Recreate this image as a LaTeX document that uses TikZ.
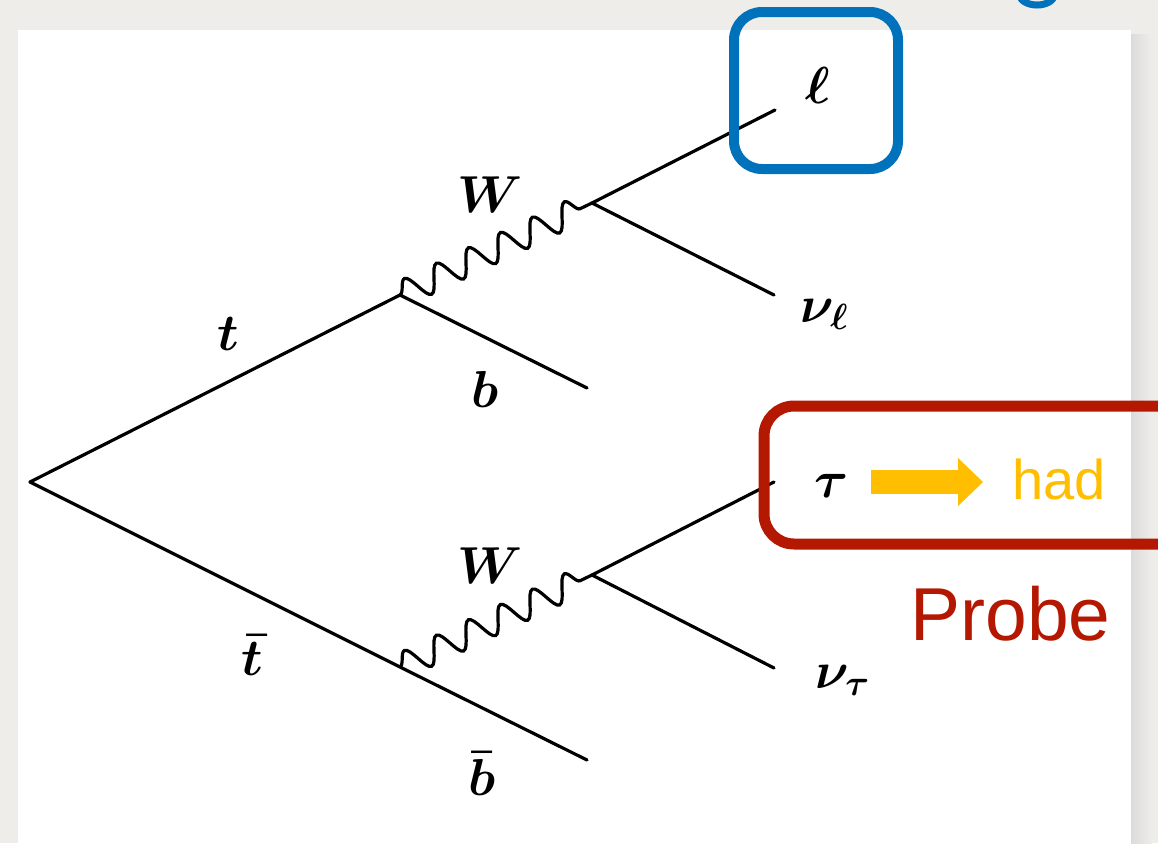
\documentclass[tikz,border=0pt]{standalone}
\usepackage{fix-cm}
\usepackage{fontspec}
\setsansfont{Liberation Sans}
\usetikzlibrary{decorations.pathmorphing,arrows.meta}
\definecolor{bgpaper}{HTML}{EFEDEA}
\definecolor{boxblue}{RGB}{0,114,187}
\definecolor{boxred}{RGB}{180,24,0}
\definecolor{hadorange}{RGB}{255,190,0}
\tikzset{
  fline/.style={line width=1.6pt, line cap=round},
  wline/.style={line width=1.6pt, decorate,
    decoration={snake, segment length=17.75pt, amplitude=6.5pt}},
  mlab/.style={font=\fontsize{26}{30}\selectfont\boldmath, inner sep=0pt},
  bluebox/.style={draw=boxblue, line width=5pt, rounded corners=14pt},
  redbox/.style={draw=boxred, line width=5.5pt, rounded corners=15pt},
  hadlab/.style={font=\sffamily\fontsize{28}{30}\selectfont, text=hadorange, inner sep=0pt},
  probelab/.style={font=\sffamily\fontsize{37.5}{40}\selectfont, text=boxred, inner sep=0pt},
  blockarrow/.style={draw=hadorange, line width=12pt,
    -{Triangle[length=12.5pt,width=24pt,line width=0pt]}}
}
\begin{document}
\begin{tikzpicture}[x=0.5pt,y=-0.5pt]
\useasboundingbox (0,0) rectangle (1158,843);
\begin{scope}
\clip (0,0) rectangle (1158,843);
\fill[bgpaper] (0,0) rectangle (1158,843);
\shade[left color=black!14, right color=bgpaper] (1131,34) rectangle (1152,843);
\fill[white] (18,30) rectangle (1131,843);

% vertices and free ends
\coordinate (v0) at (30,482);
\coordinate (v1) at (400,295);
\coordinate (w1) at (592,203);
\coordinate (bend) at (587,388);
\coordinate (lend) at (775,110);
\coordinate (nlend) at (774,295);
\coordinate (v2) at (400,667);
\coordinate (w2) at (592,575);
\coordinate (bbend) at (587,760);
\coordinate (tauend) at (774,482);
\coordinate (ntend) at (774,668);

% fermion lines
\draw[fline] (v0) -- (v1);
\draw[fline] (v1) -- (bend);
\draw[fline] (w1) -- (lend);
\draw[fline] (w1) -- (nlend);
\draw[fline] (v0) -- (v2) -- (bbend);
\draw[fline] (w2) -- (tauend);
\draw[fline] (w2) -- (ntend);

% W bosons
\draw[wline] (v1) -- (w1);
\draw[wline] (v2) -- (w2);

% labels
\node[mlab, anchor=base] (tlab) at (228,350) {$t$};
\node[mlab, anchor=base] (blab) at (485,407) {$b$};
\node[mlab, anchor=base] (Wup) at (490,212) {$W$};
\node[mlab, anchor=base] (Wdn) at (490,583) {$W$};
\node[mlab, anchor=base] (tbar) at (252,675) {$\bar{t}$};
\node[mlab, anchor=base] (bbar) at (482,795) {$\bar{b}$};
\node[mlab, anchor=base] (ell) at (818,103) {$\ell$};
\node[mlab, anchor=base west] (nul) at (800,322) {$\nu_\ell$};
\node[mlab, anchor=base west] (nut) at (815,688) {$\nu_\tau$};
\node[mlab, anchor=base] (tau) at (832,497) {$\tau$};
\node[hadlab, anchor=base west] (had) at (1012,499) {had};
\node[probelab, anchor=base west] (probe) at (910,640) {Probe};

% tau -> had arrow
\coordinate (a1) at (871,482);
\coordinate (a2) at (983,482);
\draw[blockarrow] (a1) -- (a2);

% boxes
\draw[bluebox] (734,12) rectangle (898,169);
\draw[redbox] (764,406) rectangle (1200,544);

% cut-off blue letter at top
\draw[draw=boxblue, line width=3.5pt] (1037,-5) ellipse [x radius=17, y radius=10];
\end{scope}
\end{tikzpicture}
\end{document}
